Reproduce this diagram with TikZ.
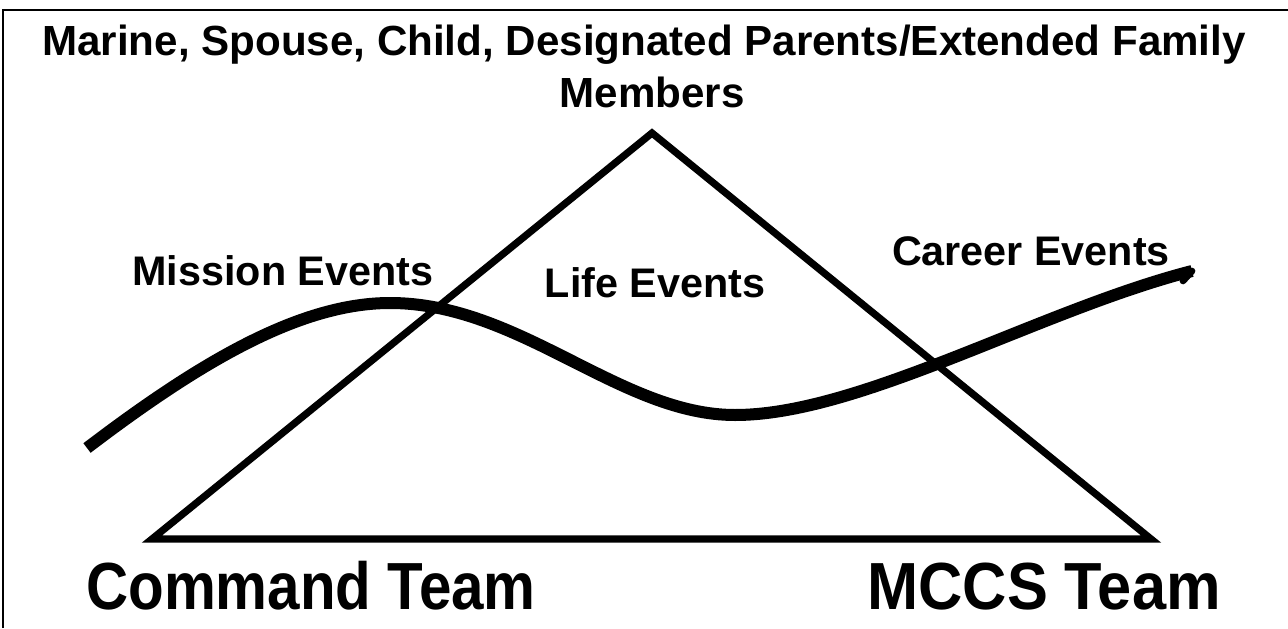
\documentclass[tikz,border=0pt]{standalone}
\usepackage{fontspec}
\setmainfont{Liberation Sans}
\tikzset{
  lbl/.style={inner sep=0pt, anchor=base, font=\bfseries\fontsize{31}{37}\selectfont},
  ttl/.style={inner sep=0pt, anchor=base, font=\bfseries\fontsize{31.6}{38}\selectfont},
  team/.style={inner sep=0pt, anchor=base, font=\bfseries\fontsize{50}{60}\selectfont},
  tri/.style={line width=5.4pt, line join=miter},
  wave/.style={line width=9pt, line cap=butt, line join=round},
  frame/.style={line width=1.5pt}
}
\begin{document}
\begin{tikzpicture}[x=0.75pt,y=-0.75pt]
\useasboundingbox (0,0) rectangle (1288,628);
% frame (top and left edges)
\coordinate (fbl) at (3,628);
\coordinate (ftl) at (3,10);
\coordinate (ftr) at (1288,10);
\draw[frame] (fbl) -- (ftl) -- (ftr);
% title
\node[ttl] (title) at (644,55) {Marine, Spouse, Child, Designated Parents/Extended Family};
\node[ttl] (members) at (652,107) {Members};
% triangle
\coordinate (apex) at (652,133);
\coordinate (bl) at (152,539);
\coordinate (br) at (1151,539);
\draw[tri] (apex) -- (bl) -- (br) -- cycle;
% wave
\coordinate (w0) at (87,448);
\coordinate (w1) at (390,303);
\coordinate (w2) at (735,415);
\coordinate (w3) at (1192,271);
\draw[wave] (w0) .. controls (200,362) and (300,303) .. (w1)
  .. controls (520,303) and (620,415) .. (w2)
  .. controls (860,415) and (1040,310) .. (w3);
\coordinate (hookB) at (1183,281);
\draw[line width=5pt, line cap=round] (w3) -- (hookB);
% labels
\node[lbl] (mission) at (283,285) {Mission Events};
\node[lbl] (life) at (655,297) {Life Events};
\node[lbl] (career) at (1031,265) {Career Events};
% teams
\node[team, xscale=0.875] (command) at (311,609) {Command Team};
\node[team, xscale=0.92] (mccs) at (1044,609) {MCCS Team};
\end{tikzpicture}
\end{document}
